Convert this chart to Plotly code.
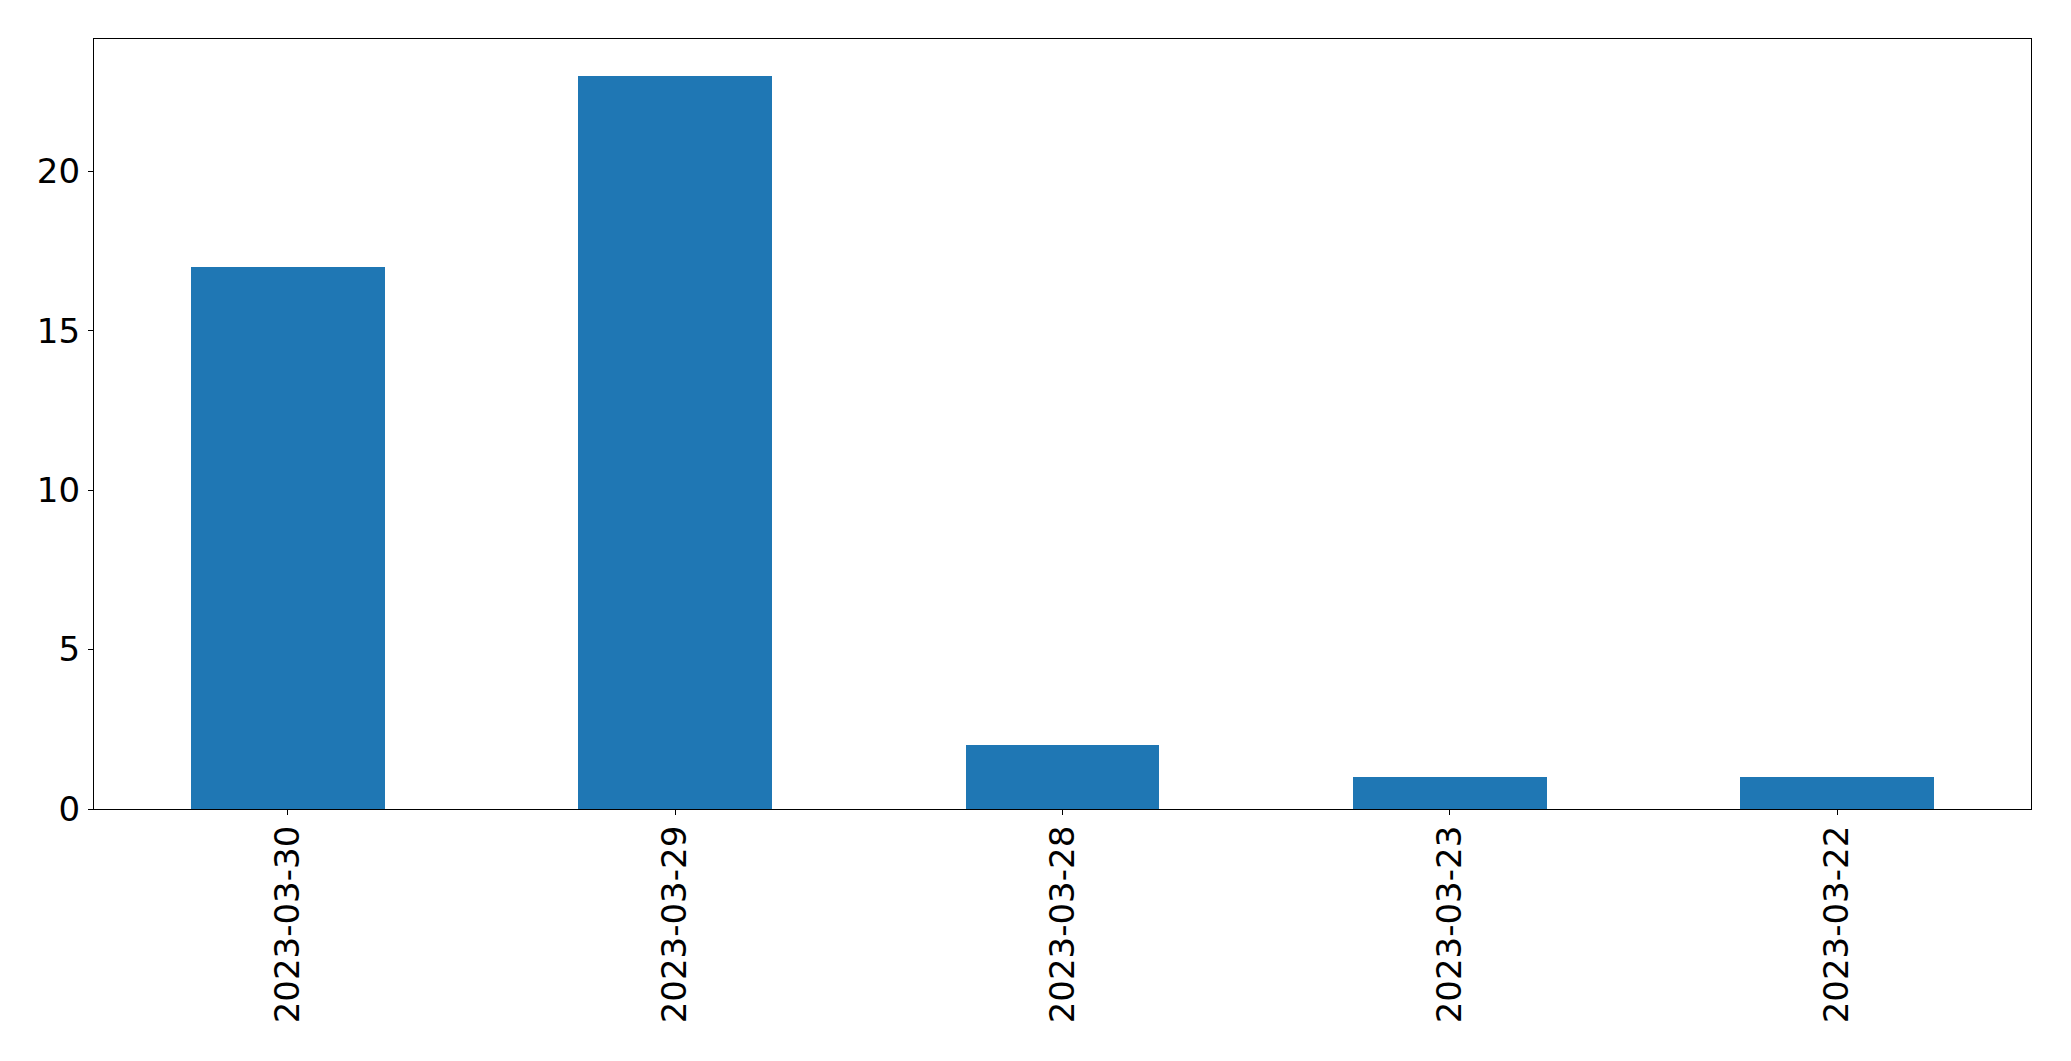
import plotly.graph_objects as go

categories = ["2023-03-30", "2023-03-29", "2023-03-28", "2023-03-23", "2023-03-22"]
values = [17, 23, 2, 1, 1]
y_ticks = [0, 5, 10, 15, 20]

# page body has an 8px default margin; compensate
W, H = 2071 - 16, 1061 - 16
L, R, T, B = 94 - 8, 40 - 8, 39 - 8, 252 - 8

fig = go.Figure()
fig.add_trace(go.Bar(x=list(range(len(categories))), y=values, width=0.5,
                     marker=dict(color="#1f77b4", line=dict(width=0))))

font = dict(family="DejaVu Sans", size=34, color="black")
fig.update_layout(
    width=W, height=H, autosize=False,
    margin=dict(l=L, r=R, t=T, b=B, pad=0),
    paper_bgcolor="white", plot_bgcolor="white",
    showlegend=False, bargap=0,
    font=font,
)
fig.update_xaxes(
    range=[-0.5, len(categories) - 0.5],
    tickmode="array", tickvals=list(range(len(categories))), ticktext=categories,
    tickangle=-90, ticks="outside", ticklen=5, tickwidth=1.3, tickcolor="black",
    showline=True, linecolor="black", linewidth=1.3, mirror=True,
    showgrid=False, zeroline=False, tickfont=font, ticklabelstandoff=-3,
)
fig.update_yaxes(
    range=[0, max(values) * 1.05],
    tickmode="array", tickvals=y_ticks, ticktext=[str(v) for v in y_ticks],
    ticks="outside", ticklen=5, tickwidth=1.3, tickcolor="black",
    showline=True, linecolor="black", linewidth=1.3, mirror=True,
    showgrid=False, zeroline=False, tickfont=font, ticklabelstandoff=1,
)

fig.write_html("out.html")
